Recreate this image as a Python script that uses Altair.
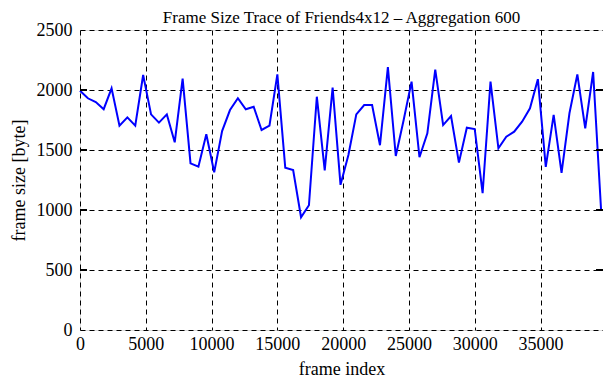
import altair as alt
import pandas as pd

frame_index = [0, 600, 1200, 1800, 2400, 3000, 3600, 4200, 4800, 5400,
               6000, 6600, 7200, 7800, 8400, 9000, 9600, 10200, 10800, 11400,
               12000, 12600, 13200, 13800, 14400, 15000, 15600, 16200, 16800, 17400,
               18000, 18600, 19200, 19800, 20400, 21000, 21600, 22200, 22800, 23400,
               24000, 24600, 25200, 25800, 26400, 27000, 27600, 28200, 28800, 29400,
               30000, 30600, 31200, 31800, 32400, 33000, 33600, 34200, 34800, 35400,
               36000, 36600, 37200, 37800, 38400, 39000, 39600]
frame_size = [1994, 1931, 1900, 1840, 2014, 1703, 1772, 1703, 2125, 1797,
              1728, 1797, 1564, 2095, 1389, 1361, 1631, 1314, 1658, 1833,
              1931, 1839, 1861, 1667, 1703, 2130, 1353, 1333, 940, 1040,
              1944, 1330, 2020, 1210, 1458, 1797, 1875, 1875, 1540, 2190,
              1450, 1750, 2070, 1440, 1639, 2170, 1708, 1783, 1395, 1686,
              1675, 1140, 2070, 1514, 1611, 1653, 1736, 1847, 2090, 1360,
              1792, 1310, 1806, 2130, 1680, 2150, 1008]

x_ticks = [0, 5000, 10000, 15000, 20000, 25000, 30000, 35000]
y_ticks = [0, 500, 1000, 1500, 2000, 2500]
x_max = 39750

df = pd.DataFrame({"frame": frame_index, "size": frame_size})
ticks_df = pd.DataFrame({"v": y_ticks[1:-1]})

FONT = "Liberation Serif"

x_scale = alt.Scale(domain=[0, x_max], nice=False, zero=False)
y_scale = alt.Scale(domain=[0, 2500], nice=False)

line = alt.Chart(df).mark_line(color="#0000FF", strokeWidth=2, strokeJoin="miter").encode(
    x=alt.X("frame:Q", scale=x_scale,
            axis=alt.Axis(values=x_ticks, format="d", title="frame index", grid=True,
                          gridDash=[5, 4], gridColor="black", gridWidth=1, gridOpacity=1,
                          ticks=False, domain=False, labelPadding=5,
                          labelFont=FONT, labelFontSize=18, labelColor="black",
                          titleFont=FONT, titleFontSize=18, titleFontWeight="normal",
                          titleColor="black", titlePadding=7, labelFlush=False)),
    y=alt.Y("size:Q", scale=y_scale,
            axis=alt.Axis(values=y_ticks, format="d", title="frame size [byte]", grid=True,
                          gridDash=[5, 4], gridColor="black", gridWidth=1, gridOpacity=1,
                          ticks=False, domain=False, labelPadding=8,
                          labelFont=FONT, labelFontSize=18, labelColor="black",
                          titleFont=FONT, titleFontSize=18, titleFontWeight="normal",
                          titleColor="black", titlePadding=8)),
)

left_ticks = alt.Chart(ticks_df).mark_rule(color="black", strokeWidth=2).encode(
    y=alt.Y("v:Q", scale=y_scale), x=alt.value(0), x2=alt.value(7))
right_ticks = alt.Chart(ticks_df).mark_rule(color="black", strokeWidth=2).encode(
    y=alt.Y("v:Q", scale=y_scale), x=alt.value(516), x2=alt.value(523))

chart = alt.layer(line, left_ticks, right_ticks).properties(
    width=523, height=300,
    autosize=alt.AutoSizeParams(type="none"),
    padding={"left": 72, "top": 22, "right": 0, "bottom": 50},
    title=alt.TitleParams("Frame Size Trace of Friends4x12 \u2013 Aggregation 600",
                          font=FONT, fontSize=17, fontWeight="normal", color="black",
                          anchor="middle", offset=-6),
).configure_view(stroke="black", strokeWidth=2).configure(background="white")

chart.save("out.html", embed_options={"renderer": "svg", "actions": False})
